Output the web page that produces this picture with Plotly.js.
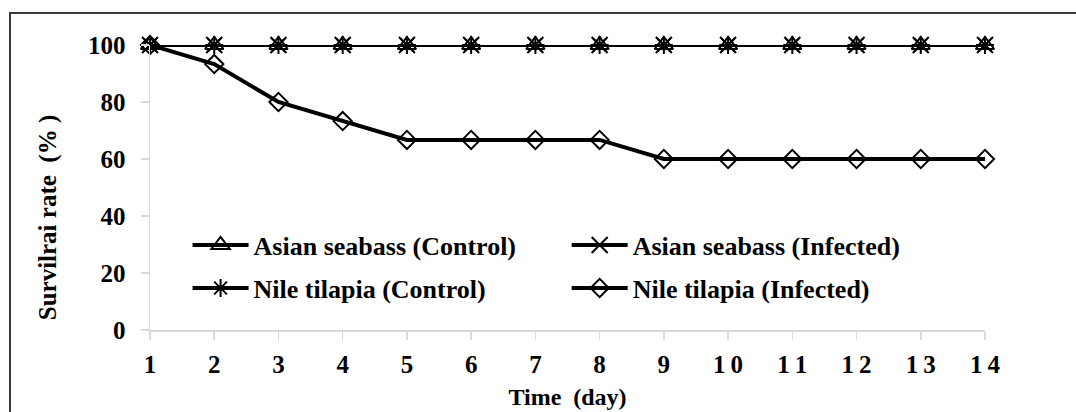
<!DOCTYPE html>
<html>
<head>
<meta charset="utf-8">
<script src="https://cdn.plot.ly/plotly-3.0.1.min.js"></script>
<style>
  html, body { margin: 0; padding: 0; background: #fff; overflow: hidden; }
  #frame { position: absolute; left: 9px; top: 12px; width: 1200px; height: 600px; border: 2px solid #3a3a3a; box-sizing: border-box; pointer-events: none; z-index: 5; }
  #chart { width: 1076px; height: 412px; }
</style>
</head>
<body>
<div id="frame"></div>
<div id="chart"></div>
<script>
// ---- data ----
const days = [1, 2, 3, 4, 5, 6, 7, 8, 9, 10, 11, 12, 13, 14];
const xTickLabels = ['1', '2', '3', '4', '5', '6', '7', '8', '9', '1\u20090', '1\u20091', '1\u20092', '1\u20093', '1\u20094'];
const yTickVals = [0, 20, 40, 60, 80, 100];
const seriesNames = ['Asian seabass (Control)', 'Asian seabass (Infected)', 'Nile tilapia (Control)', 'Nile tilapia (Infected)'];
const seabassControl = [100, 100, 100, 100, 100, 100, 100, 100, 100, 100, 100, 100, 100, 100];
const seabassInfected = [100, 100, 100, 100, 100, 100, 100, 100, 100, 100, 100, 100, 100, 100];
const tilapiaControl = [100, 100, 100, 100, 100, 100, 100, 100, 100, 100, 100, 100, 100, 100];
const tilapiaInfected = [100, 93.3, 80, 73.3, 66.7, 66.7, 66.7, 66.7, 60, 60, 60, 60, 60, 60];
const yTitle = 'Survilrai rate\u00a0 (%\u00a0)';
const xTitle = 'Time\u00a0 (day)';

const FONT = 'Liberation Serif';
const symbols = ['triangle-up-open', 'x-thin-open', 'asterisk-open', 'diamond-open'];
const sizes = [16, 16, 15, 14];
const legends = ['legend', 'legend2', 'legend3', 'legend4'];
const values = [seabassControl, seabassInfected, tilapiaControl, tilapiaInfected];
const traces = values.map((v, i) => ({
  x: days,
  y: v,
  name: seriesNames[i],
  type: 'scatter',
  mode: 'lines+markers',
  cliponaxis: false,
  legend: legends[i],
  line: { color: '#000', width: 4 },
  marker: { symbol: symbols[i], size: sizes[i], color: '#000', line: { color: '#000', width: 2 } }
}));

function legendAt(x, y) {
  return {
    x: x, y: y, xanchor: 'left', yanchor: 'middle',
    bgcolor: 'rgba(0,0,0,0)', borderwidth: 0,
    itemwidth: 56,
    font: { family: FONT, size: 26, color: '#000', weight: 'bold' }
  };
}

const layout = {
  width: 1076,
  height: 412,
  margin: { l: 150, r: 91, t: 45, b: 82 },
  paper_bgcolor: '#fff',
  plot_bgcolor: '#fff',
  showlegend: true,
  font: { family: FONT, color: '#000', weight: 'bold' },
  xaxis: {
    range: [1, 14],
    tickvals: days,
    ticktext: xTickLabels,
    showgrid: false,
    zeroline: false,
    showline: true,
    linecolor: '#d9d9d9',
    linewidth: 1.5,
    ticks: 'outside',
    ticklen: 8,
    tickwidth: 1.5,
    tickcolor: '#d9d9d9',
    ticklabelstandoff: 3,
    tickfont: { family: FONT, size: 25, color: '#000', weight: 'bold' },
    title: { text: xTitle, font: { family: FONT, size: 24, color: '#000', weight: 'bold' }, standoff: 11 }
  },
  yaxis: {
    range: [0, 100],
    tickvals: yTickVals,
    showgrid: false,
    zeroline: false,
    showline: true,
    linecolor: '#d9d9d9',
    linewidth: 1.5,
    ticks: 'outside',
    ticklen: 8,
    tickwidth: 1.5,
    tickcolor: '#d9d9d9',
    ticklabelstandoff: 10,
    tickfont: { family: FONT, size: 25, color: '#000', weight: 'bold' }
  },
  annotations: [{
    text: yTitle,
    xref: 'paper', yref: 'paper',
    x: -0.122, y: 0.396,
    xanchor: 'center', yanchor: 'middle',
    textangle: -90,
    showarrow: false,
    font: { family: FONT, size: 25, color: '#000', weight: 'bold' }
  }],
  legend: legendAt(0.045, 0.298),
  legend2: legendAt(0.499, 0.298),
  legend3: legendAt(0.045, 0.147),
  legend4: legendAt(0.499, 0.147)
};

Plotly.newPlot('chart', traces, layout, { displayModeBar: false, staticPlot: true });
</script>
</body>
</html>
